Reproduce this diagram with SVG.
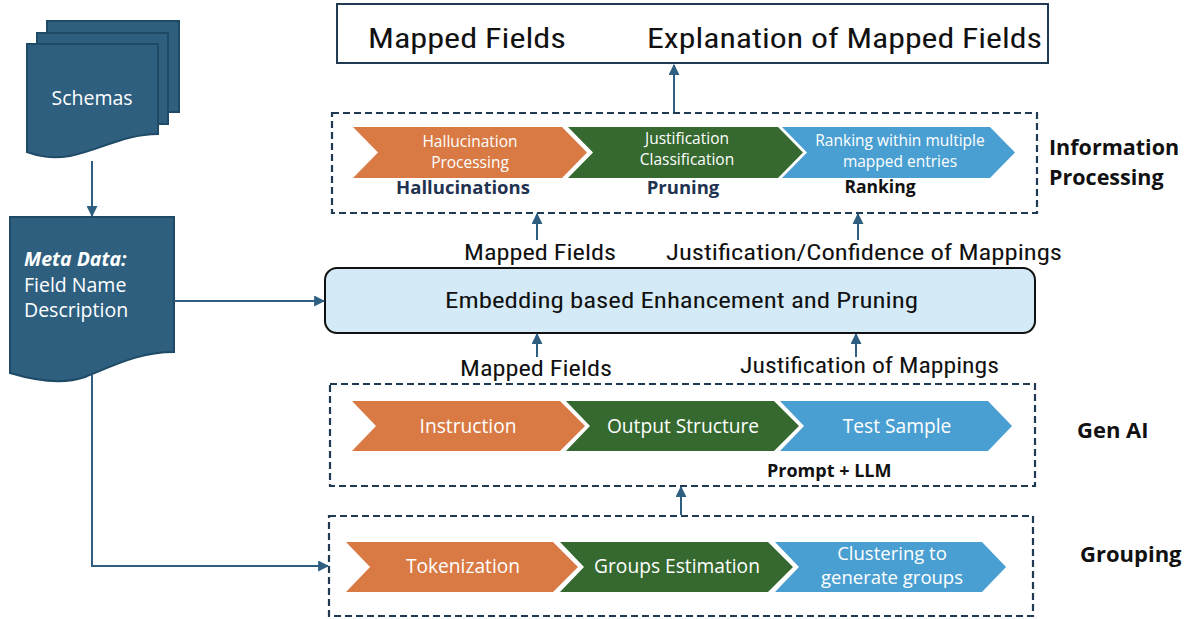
<svg xmlns="http://www.w3.org/2000/svg" width="1189" height="619" viewBox="0 0 1189 619">
<defs>
<marker id="ah" viewBox="0 0 10 10" refX="9" refY="5" markerWidth="5.5" markerHeight="5.5" orient="auto-start-reverse" markerUnits="strokeWidth">
<path d="M0,0 L10,5 L0,10 Z" fill="#2e5f80"/>
</marker>
<style>
.doc{fill:#2e5f7f;stroke:#1f4a66;stroke-width:2}
.dash{fill:none;stroke:#1f3a52;stroke-width:2.2;stroke-dasharray:7 4}
.con{fill:none;stroke:#2e5f80;stroke-width:2;marker-end:url(#ah)}
.or{fill:#d97a44}
.gr{fill:#35692f}
.bl{fill:#4a9fd2}
.ct{font-family:"Open Sans","Noto Sans",sans-serif;fill:#ffffff;text-anchor:middle}
.cn{font-family:"Liberation Sans Narrow","Roboto Condensed","Liberation Sans",sans-serif;fill:#111111}
.bd{font-family:"Open Sans","Noto Sans",sans-serif;font-weight:700}
.wt{font-family:"Open Sans","Noto Sans",sans-serif;fill:#ffffff;font-size:19.5px}
</style>
</defs>
<rect width="1189" height="619" fill="#ffffff"/>

<g id="schemas">
<path class="doc" d="M47,21 H179 V112 H47 Z"/>
<path class="doc" d="M37,33 H168 V124 H37 Z"/>
<path class="doc" d="M27,44 H158 V134 C125,134 100,150 70,156 C50,159 38,156 27,152 Z"/>
<text class="wt" x="92" y="105" text-anchor="middle" font-size="20">Schemas</text>
</g>

<g id="metadata">
<path class="doc" d="M10,217 H174 V352 C140,352 115,365 85,377 C65,384 40,382 10,373 Z"/>
<text class="wt" x="24" y="266" font-weight="700" font-style="italic">Meta Data:</text>
<text class="wt" x="24" y="292">Field Name</text>
<text class="wt" x="24" y="317">Description</text>
</g>

<g id="output">
<rect x="337" y="4" width="711" height="59" fill="#ffffff" stroke="#1f3a52" stroke-width="2"/>
<text class="cn" x="368" y="48" font-size="28" textLength="198" lengthAdjust="spacingAndGlyphs">Mapped Fields</text>
<text class="cn" x="647" y="48" font-size="28" textLength="395" lengthAdjust="spacingAndGlyphs">Explanation of Mapped Fields</text>
</g>

<g id="info-processing">
<rect class="dash" x="332" y="113" width="705" height="100"/>
<polygon class="or" points="353,127 562,127 587,152.5 562,178 353,178 378,152.5"/>
<polygon class="gr" points="568,127 778,127 803,152.5 778,178 568,178 593,152.5"/>
<polygon class="bl" points="782,127 990,127 1015,152.5 990,178 782,178 807,152.5"/>
<text class="ct" x="470" y="147" font-size="15.5">Hallucination</text>
<text class="ct" x="470" y="168" font-size="15.5">Processing</text>
<text class="ct" x="687" y="144" font-size="15.5">Justification</text>
<text class="ct" x="687" y="165" font-size="15.5">Classification</text>
<text class="ct" x="900" y="146" font-size="15.5">Ranking within multiple</text>
<text class="ct" x="900" y="167" font-size="15.5">mapped entries</text>
<text class="bd" x="463" y="194" font-size="18.5" fill="#1f3350" text-anchor="middle">Hallucinations</text>
<text class="bd" x="683" y="194" font-size="18.5" fill="#1f3350" text-anchor="middle">Pruning</text>
<text class="bd" x="880" y="193" font-size="17.5" fill="#111111" text-anchor="middle">Ranking</text>
<text class="bd" x="1049" y="155" font-size="21.5" fill="#111111">Information</text>
<text class="bd" x="1049" y="185" font-size="21.5" fill="#111111">Processing</text>
</g>

<g id="embedding">
<rect x="325" y="268" width="710" height="65" rx="12" fill="#d4ebf7" stroke="#111111" stroke-width="2"/>
<text class="cn" x="445" y="308" font-size="22" textLength="473" lengthAdjust="spacingAndGlyphs">Embedding based Enhancement and Pruning</text>
</g>

<g id="genai">
<rect class="dash" x="330" y="384" width="705" height="102"/>
<polygon class="or" points="352,401 560,401 585,426 560,451 352,451 376,426"/>
<polygon class="gr" points="566,401 774,401 799,426 774,451 566,451 590,426"/>
<polygon class="bl" points="780,401 988,401 1012,426 988,451 780,451 804,426"/>
<text class="ct" x="468" y="433" font-size="19.2">Instruction</text>
<text class="ct" x="683" y="433" font-size="19.2">Output Structure</text>
<text class="ct" x="897" y="433" font-size="19.2">Test Sample</text>
<text class="bd" x="767" y="477" font-size="18" fill="#111111">Prompt + LLM</text>
<text class="bd" x="1077" y="438" font-size="22" fill="#111111">Gen AI</text>
</g>

<g id="grouping">
<rect class="dash" x="329" y="516" width="704" height="100"/>
<polygon class="or" points="346,542 553,542 578,567 553,592 346,592 370,567"/>
<polygon class="gr" points="560,542 768,542 793,567 768,592 560,592 584,567"/>
<polygon class="bl" points="775,542 982,542 1006,567 982,592 775,592 799,567"/>
<text class="ct" x="463" y="573" font-size="19.2">Tokenization</text>
<text class="ct" x="677" y="573" font-size="19.2">Groups Estimation</text>
<text class="ct" x="892" y="560" font-size="18.5">Clustering to</text>
<text class="ct" x="892" y="584" font-size="18.5">generate groups</text>
<text class="bd" x="1080" y="562" font-size="22" fill="#111111">Grouping</text>
</g>

<g id="labels">
<text class="cn" x="464" y="260" font-size="22" textLength="152" lengthAdjust="spacingAndGlyphs">Mapped Fields</text>
<text class="cn" x="666" y="260" font-size="22" textLength="396" lengthAdjust="spacingAndGlyphs">Justification/Confidence  of Mappings</text>
<text class="cn" x="460" y="376" font-size="22" textLength="152" lengthAdjust="spacingAndGlyphs">Mapped Fields</text>
<text class="cn" x="740" y="373" font-size="22" textLength="259" lengthAdjust="spacingAndGlyphs">Justification of Mappings</text>
</g>

<g id="connectors">
<path class="con" d="M92,161 V216"/>
<path class="con" d="M174,301 H324"/>
<path class="con" d="M92,375 V566 H328"/>
<path class="con" d="M674,112 V65"/>
<path class="con" d="M537,240 V214"/>
<path class="con" d="M858,240 V214"/>
<path class="con" d="M537,357 V334"/>
<path class="con" d="M856,357 V334"/>
<path class="con" d="M681,515 V487"/>
</g>
</svg>
